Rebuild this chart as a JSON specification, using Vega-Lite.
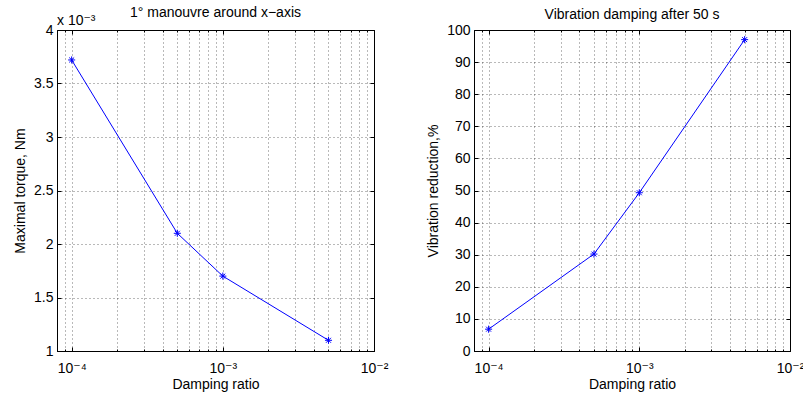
{
  "$schema": "https://vega.github.io/schema/vega-lite/v6.json",
  "padding": {"left": 13, "top": 5, "right": 5, "bottom": 0},
  "spacing": 100,
  "bounds": "flush",
  "data": {"values": [
    {"ratio": 0.0001, "torque": 0.00372, "reduction": 6.8},
    {"ratio": 0.0005, "torque": 0.0021, "reduction": 30.2},
    {"ratio": 0.001, "torque": 0.0017, "reduction": 49.3},
    {"ratio": 0.005, "torque": 0.0011, "reduction": 97}
  ]},
  "hconcat": [
    {
      "width": 317, "height": 321,
      "title": {"text": "1° manouvre around x−axis", "offset": -5.5},
      "layer": [
        {
          "mark": {"type": "line", "color": "#0000ff", "strokeWidth": 1},
          "encoding": {
            "x": {"field": "ratio", "type": "quantitative",
              "scale": {"type": "log", "domain": [0.00008, 0.01], "nice": false},
              "axis": {"orient": "bottom", "title": "Damping ratio", "grid": true,
                "values": [0.00009, 0.0001, 0.0002, 0.0003, 0.0004, 0.0005, 0.0006, 0.0007, 0.0008, 0.0009, 0.001, 0.002, 0.003, 0.004, 0.005, 0.006, 0.007, 0.008, 0.009, 0.01],
                "labelExpr": "datum.value === 0.0001 ? '10⁻⁴' : datum.value === 0.001 ? '10⁻³' : datum.value === 0.01 ? '10⁻²' : ''",
                "tickSize": {"condition": {"test": "datum.value === 0.0001 || datum.value === 0.001 || datum.value === 0.01", "value": -4}, "value": -2},
                "labelPadding": 14, "titlePadding": 0}},
            "y": {"field": "torque", "type": "quantitative",
              "scale": {"domain": [0.001, 0.004], "nice": false, "zero": false},
              "axis": {"orient": "left", "title": "Maximal torque, Nm", "grid": true,
                "values": [0.001, 0.0015, 0.002, 0.0025, 0.003, 0.0035, 0.004],
                "labelExpr": "format(datum.value * 1000, '.1~f')",
                "tickSize": -4, "labelPadding": 8, "titlePadding": 6}}
          }
        },
        {
          "mark": {"type": "point", "shape": "M-1,0L1,0M0,-1L0,1M-0.7,-0.7L0.7,0.7M-0.7,0.7L0.7,-0.7", "filled": false, "color": "#0000ff", "size": 50, "strokeWidth": 1, "opacity": 1},
          "encoding": {
            "x": {"field": "ratio", "type": "quantitative",
              "axis": {"orient": "top", "title": null, "grid": false, "labels": false, "domain": false, "minExtent": 0, "maxExtent": 0, "offset": 0,
                "values": [0.00009, 0.0001, 0.0002, 0.0003, 0.0004, 0.0005, 0.0006, 0.0007, 0.0008, 0.0009, 0.001, 0.002, 0.003, 0.004, 0.005, 0.006, 0.007, 0.008, 0.009, 0.01],
                "tickSize": {"condition": {"test": "datum.value === 0.0001 || datum.value === 0.001 || datum.value === 0.01", "value": -4}, "value": -2}}},
            "y": {"field": "torque", "type": "quantitative",
              "axis": {"orient": "right", "title": null, "grid": false, "labels": false, "domain": false, "minExtent": 0, "maxExtent": 0, "offset": 0,
                "values": [0.001, 0.0015, 0.002, 0.0025, 0.003, 0.0035, 0.004], "tickSize": -4}}
          }
        },
        {
          "data": {"values": [{"note": "x 10⁻³", "ratio": 0.00008, "torque": 0.004}]},
          "mark": {"type": "text", "align": "left", "baseline": "alphabetic", "dy": -5, "fontSize": 14, "fontWeight": "normal", "color": "#000"},
          "encoding": {
            "x": {"field": "ratio", "type": "quantitative", "axis": null},
            "y": {"field": "torque", "type": "quantitative", "axis": null},
            "text": {"field": "note"}
          }
        }
      ],
      "resolve": {"axis": {"x": "independent", "y": "independent"}}
    },
    {
      "width": 316, "height": 321,
      "title": {"text": "Vibration damping after 50 s", "offset": 1},
      "layer": [
        {
          "mark": {"type": "line", "color": "#0000ff", "strokeWidth": 1},
          "encoding": {
            "x": {"field": "ratio", "type": "quantitative",
              "scale": {"type": "log", "domain": [0.00008, 0.01], "nice": false},
              "axis": {"orient": "bottom", "title": "Damping ratio", "grid": true,
                "values": [0.00009, 0.0001, 0.0002, 0.0003, 0.0004, 0.0005, 0.0006, 0.0007, 0.0008, 0.0009, 0.001, 0.002, 0.003, 0.004, 0.005, 0.006, 0.007, 0.008, 0.009, 0.01],
                "labelExpr": "datum.value === 0.0001 ? '10⁻⁴' : datum.value === 0.001 ? '10⁻³' : datum.value === 0.01 ? '10⁻²' : ''",
                "tickSize": {"condition": {"test": "datum.value === 0.0001 || datum.value === 0.001 || datum.value === 0.01", "value": -4}, "value": -2},
                "labelPadding": 14, "titlePadding": 0}},
            "y": {"field": "reduction", "type": "quantitative",
              "scale": {"domain": [0, 100], "nice": false},
              "axis": {"orient": "left", "title": "Vibration reduction,%", "grid": true,
                "values": [0, 10, 20, 30, 40, 50, 60, 70, 80, 90, 100],
                "tickSize": -4, "labelPadding": 8, "titlePadding": 6}}
          }
        },
        {
          "mark": {"type": "point", "shape": "M-1,0L1,0M0,-1L0,1M-0.7,-0.7L0.7,0.7M-0.7,0.7L0.7,-0.7", "filled": false, "color": "#0000ff", "size": 50, "strokeWidth": 1, "opacity": 1},
          "encoding": {
            "x": {"field": "ratio", "type": "quantitative",
              "axis": {"orient": "top", "title": null, "grid": false, "labels": false, "domain": false, "minExtent": 0, "maxExtent": 0, "offset": 0,
                "values": [0.00009, 0.0001, 0.0002, 0.0003, 0.0004, 0.0005, 0.0006, 0.0007, 0.0008, 0.0009, 0.001, 0.002, 0.003, 0.004, 0.005, 0.006, 0.007, 0.008, 0.009, 0.01],
                "tickSize": {"condition": {"test": "datum.value === 0.0001 || datum.value === 0.001 || datum.value === 0.01", "value": -4}, "value": -2}}},
            "y": {"field": "reduction", "type": "quantitative",
              "axis": {"orient": "right", "title": null, "grid": false, "labels": false, "domain": false, "minExtent": 0, "maxExtent": 0, "offset": 0,
                "values": [0, 10, 20, 30, 40, 50, 60, 70, 80, 90, 100], "tickSize": -4}}
          }
        }
      ],
      "resolve": {"axis": {"x": "independent", "y": "independent"}}
    }
  ],
  "config": {
    "font": "Liberation Sans, Arial, DejaVu Sans",
    "view": {"stroke": "#000", "strokeWidth": 1},
    "title": {"fontSize": 14, "fontWeight": "normal", "color": "#000", "baseline": "alphabetic", "anchor": "middle"},
    "axis": {"domainColor": "#000", "tickColor": "#000", "labelColor": "#000", "titleColor": "#000",
      "labelFontSize": 14, "titleFontSize": 14, "titleFontWeight": "normal",
      "gridColor": "#000", "gridDash": [1, 3], "gridOpacity": 0.55, "gridWidth": 1,
      "labelFlush": false, "labelOverlap": false, "labelBound": false}
  }
}
